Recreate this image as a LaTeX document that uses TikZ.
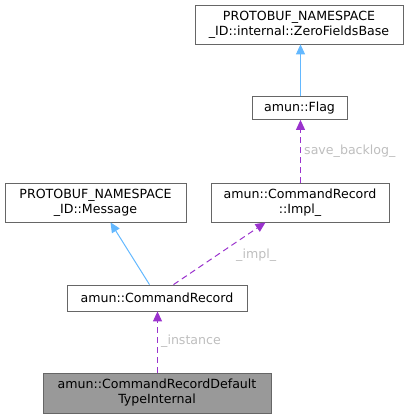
\documentclass[tikz,border=0pt]{standalone}
\usepackage{fontspec}
\setmainfont{DejaVu Sans}
\usetikzlibrary{arrows.meta,calc}
\definecolor{inhblue}{HTML}{63B8FF}
\definecolor{usepurple}{HTML}{9A32CD}
\definecolor{lblgrey}{HTML}{BEBEBE}
\definecolor{bordergrey}{HTML}{666666}
\definecolor{fillgrey}{HTML}{999999}
\begin{document}
\begin{tikzpicture}[x=1pt,y=-1pt,
  cls/.style={draw=bordergrey,fill=white,inner sep=0pt,align=center,
    font=\fontsize{12.6}{15}\selectfont,line width=0.8pt},
  inh/.style={draw=inhblue,line width=1pt,-{Triangle[length=10pt,width=9pt]}},
  use/.style={draw=usepurple,line width=1pt,dash pattern=on 6pt off 4pt,-{Triangle[length=10pt,width=9pt]}},
  lbl/.style={text=lblgrey,anchor=west,inner sep=0pt,font=\fontsize{12.6}{15}\selectfont}]
\useasboundingbox (0,0) rectangle (410,419);
\node[cls,minimum width=208pt,minimum height=39pt] (zfb) at (299,24.5) {PROTOBUF\_NAMESPACE\\\_ID::internal::ZeroFieldsBase};
\node[cls,minimum width=95pt,minimum height=23pt] (flag) at (299.5,108) {amun::Flag};
\node[cls,minimum width=181pt,minimum height=39pt] (msg) at (95.5,202.5) {PROTOBUF\_NAMESPACE\\\_ID::Message};
\node[cls,minimum width=178pt,minimum height=39pt] (impl) at (300,202.5) {amun::CommandRecord\\::Impl\_};
\node[cls,minimum width=180pt,minimum height=26pt] (cr) at (157,298) {amun::CommandRecord};
\node[cls,fill=fillgrey,minimum width=228pt,minimum height=40pt] (dti) at (157,393) {amun::CommandRecordDefault\\TypeInternal};
\coordinate (fn) at ([xshift=1pt]flag.north);
\coordinate (fs) at ([xshift=1pt]flag.south);
\draw[inh] (fn) -- (zfb.south -| fn);
\draw[use] (fs |- impl.north) -- (fs);
\draw[inh] ([xshift=-7.5pt]cr.north) -- ([xshift=15pt]msg.south);
\draw[use] ([xshift=16.5pt]cr.north) -- ([xshift=-34.5pt]impl.south);
\draw[use] ([xshift=0.5pt]dti.north) -- ([xshift=0.5pt]cr.south);
\node[lbl] (l1) at (304,151) {save\_backlog\_};
\node[lbl] (l2) at (236,255) {\_impl\_};
\node[lbl] (l3) at (161,341) {\_instance};
\end{tikzpicture}
\end{document}
